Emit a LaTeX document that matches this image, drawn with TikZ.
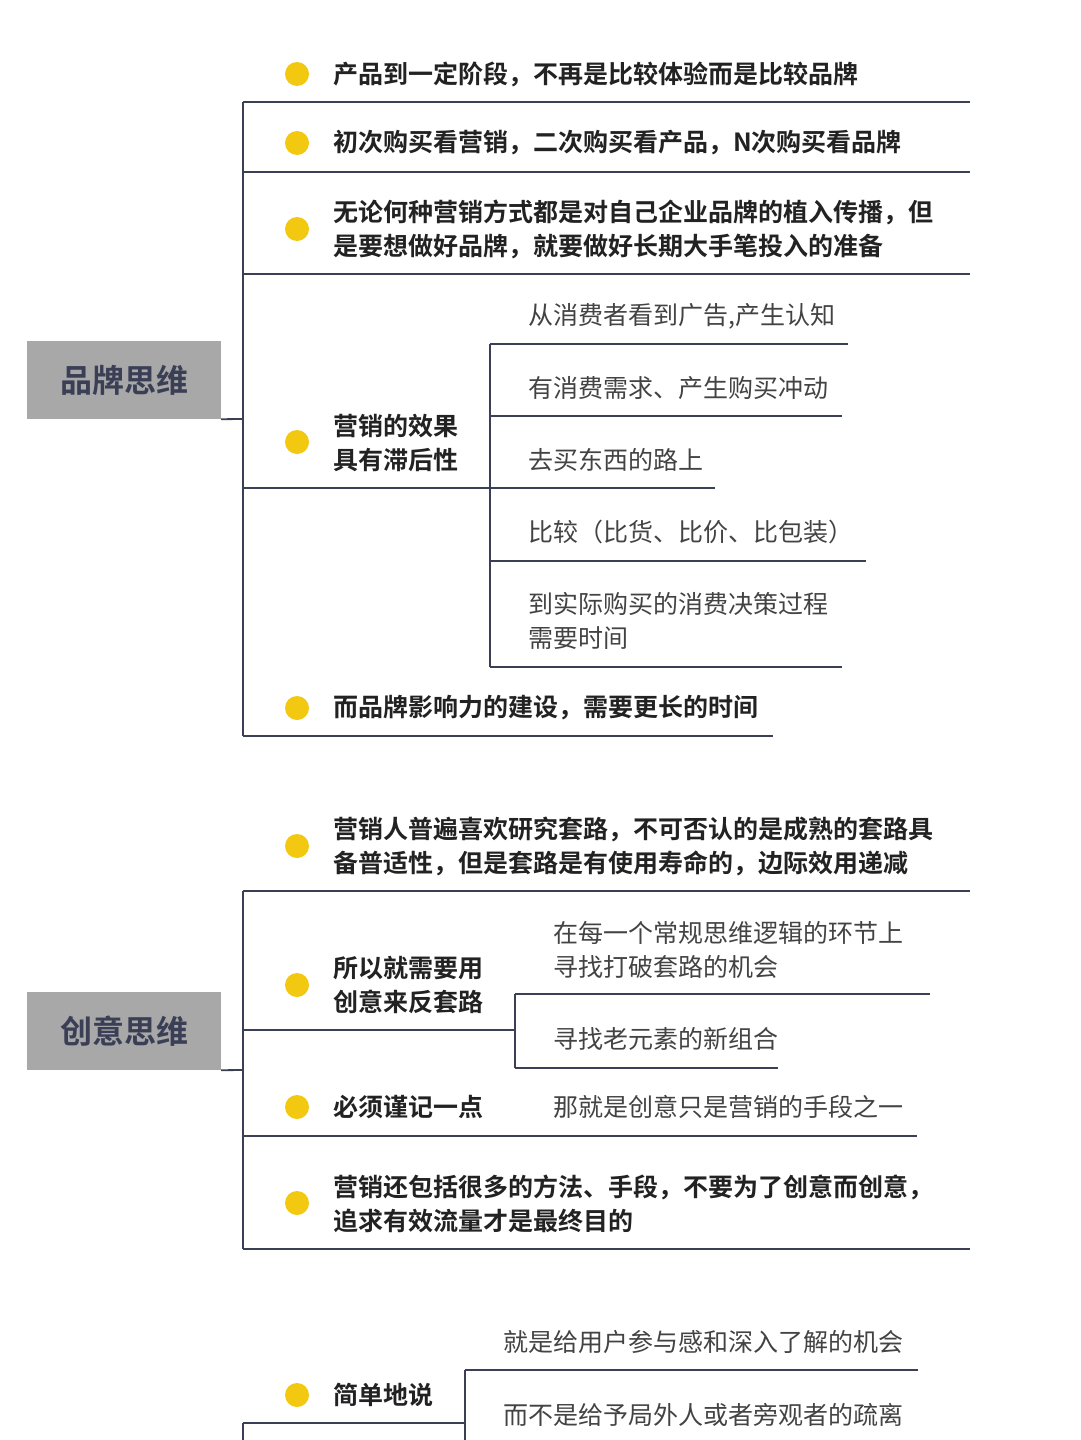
\documentclass[tikz,border=0pt]{standalone}
\usepackage{fontspec}
\newfontfamily\cjk{Noto Sans CJK SC}
\newfontfamily\cjkb{Noto Sans CJK SC Bold}
\definecolor{ln}{HTML}{3A3F55}
\definecolor{dotc}{HTML}{F2C811}
\definecolor{rootc}{HTML}{A8A8A8}
\definecolor{txt}{HTML}{222222}
\begin{document}
\begin{tikzpicture}[x=1pt,y=-1pt,
  br/.style={draw=ln,line width=1.8pt},
  main/.style={anchor=west,inner sep=0pt,font=\cjkb\fontsize{25}{34}\selectfont,text=txt,align=left},
  sub/.style={anchor=west,inner sep=0pt,font=\cjk\fontsize{25}{34}\selectfont,text=txt!85,align=left},
  rootbox/.style={fill=rootc,minimum width=194pt,minimum height=78pt,inner sep=0pt,font=\cjkb\fontsize{32}{36}\selectfont,text=ln},
  dotn/.style={circle,fill=dotc,minimum size=24pt,inner sep=0pt}]
\useasboundingbox[fill=white] (0,0) rectangle (1080,1440);
% ---------- section 1
\node[rootbox] (r1) at (124,380) {品牌思维};
\coordinate (j1) at (243,419);
\draw[br] (r1.south east) -- (j1);
\draw[br] (243,102) -- (243,736);
\node[dotn] (d1) at (297,74) {}; \node[main] (t1) at (333,74) {产品到一定阶段，不再是比较体验而是比较品牌};
\draw[br] (243,102) -- (970,102);
\node[dotn] (d2) at (297,143) {}; \node[main] (t2) at (333,143) {初次购买看营销，二次购买看产品，N次购买看品牌};
\draw[br] (243,172) -- (970,172);
\node[dotn] (d3) at (297,229) {}; \node[main] (t3) at (333,229) {无论何种营销方式都是对自己企业品牌的植入传播，但\\是要想做好品牌，就要做好长期大手笔投入的准备};
\draw[br] (243,274) -- (970,274);
\node[dotn] (d4) at (297,442) {}; \node[main] (t4) at (333,443) {营销的效果\\具有滞后性};
\draw[br] (243,488) -- (490,488);
\draw[br] (490,344) -- (490,667);
\node[sub] at (528,316) {从消费者看到广告,产生认知};
\draw[br] (490,344) -- (848,344);
\node[sub] at (528,388) {有消费需求、产生购买冲动};
\draw[br] (490,416) -- (842,416);
\node[sub] at (528,460) {去买东西的路上};
\draw[br] (490,488) -- (715,488);
\node[sub] at (528,532) {比较（比货、比价、比包装）};
\draw[br] (490,561) -- (866,561);
\node[sub] at (528,621) {到实际购买的消费决策过程\\需要时间};
\draw[br] (490,667) -- (842,667);
\node[dotn] (d5) at (297,708) {}; \node[main] (t5) at (333,708) {而品牌影响力的建设，需要更长的时间};
\draw[br] (243,736) -- (773,736);
% ---------- section 2
\node[rootbox] (r2) at (124,1031) {创意思维};
\coordinate (j2) at (243,1070);
\draw[br] (r2.south east) -- (j2);
\draw[br] (243,891) -- (243,1249);
\node[dotn] at (297,846) {}; \node[main] at (333,846) {营销人普遍喜欢研究套路，不可否认的是成熟的套路具\\备普适性，但是套路是有使用寿命的，边际效用递减};
\draw[br] (243,891) -- (970,891);
\node[dotn] at (297,985) {}; \node[main] at (333,985) {所以就需要用\\创意来反套路};
\draw[br] (243,1030) -- (515,1030);
\draw[br] (515,994) -- (515,1068);
\node[sub] at (553,950) {在每一个常规思维逻辑的环节上\\寻找打破套路的机会};
\draw[br] (515,994) -- (930,994);
\node[sub] at (553,1039) {寻找老元素的新组合};
\draw[br] (515,1068) -- (778,1068);
\node[dotn] at (297,1107) {}; \node[main] at (333,1107) {必须谨记一点};
\node[sub] at (553,1107) {那就是创意只是营销的手段之一};
\draw[br] (243,1136) -- (917,1136);
\node[dotn] at (297,1203) {}; \node[main] at (333,1204) {营销还包括很多的方法、手段，不要为了创意而创意，\\追求有效流量才是最终目的};
\draw[br] (243,1249) -- (970,1249);
% ---------- section 3
\node[dotn] at (297,1395) {}; \node[main] at (333,1395) {简单地说};
\draw[br] (243,1423) -- (465,1423);
\draw[br] (243,1423) -- (243,1440);
\draw[br] (465,1370) -- (465,1440);
\node[sub] at (503,1342) {就是给用户参与感和深入了解的机会};
\draw[br] (465,1370) -- (918,1370);
\node[sub] at (503,1415) {而不是给予局外人或者旁观者的疏离};
\end{tikzpicture}
\end{document}
